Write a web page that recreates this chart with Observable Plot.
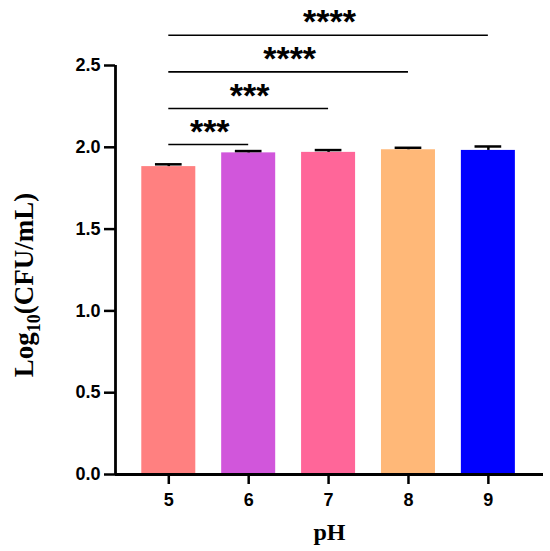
<!DOCTYPE html>
<html>
<head>
<meta charset="utf-8">
<script src="https://cdn.jsdelivr.net/npm/d3@7"></script>
<script src="https://cdn.jsdelivr.net/npm/@observablehq/plot@0.6"></script>
<style>
  html, body { margin: 0; padding: 0; background: #fff; }
</style>
</head>
<body>
<div id="chart"></div>
<script>
// ---- data ----
const phValues = [5, 6, 7, 8, 9];
const meanValues = [1.882, 1.966, 1.969, 1.985, 1.981];
const sdValues = [0.014, 0.011, 0.014, 0.012, 0.024];
const barColors = ["#FF8080", "#D156DB", "#FF6699", "#FFB878", "#0000FF"];
const yTickValues = [0, 0.5, 1.0, 1.5, 2.0, 2.5];
const sigFrom = [5, 5, 5, 5];
const sigTo = [6, 7, 8, 9];
const sigLevel = [2.017, 2.237, 2.461, 2.685];
const sigLabel = ["***", "***", "****", "****"];

const bars = phValues.map((p, i) => ({ph: p, mean: meanValues[i], sd: sdValues[i], color: barColors[i]}));
const sigs = sigFrom.map((f, i) => ({from: f, to: sigTo[i], level: sigLevel[i], label: sigLabel[i]}));

const xDomain = [4.333, 9.69];
const halfBar = 0.338;
const halfCap = 0.167;

const chart = Plot.plot({
  width: 550,
  height: 551,
  marginLeft: 115,
  marginRight: 7,
  marginTop: 65,
  marginBottom: 77,
  style: {fontFamily: "'Liberation Sans', Arial, sans-serif", background: "white", overflow: "visible"},
  x: {type: "linear", domain: xDomain},
  y: {domain: [0, 2.5]},
  color: {type: "identity"},
  marks: [
    Plot.rectY(bars, {x1: d => d.ph - halfBar, x2: d => d.ph + halfBar, y1: 0, y2: "mean", fill: "color"}),
    Plot.ruleX(bars, {x: "ph", y1: "mean", y2: d => d.mean + d.sd, stroke: "#000", strokeWidth: 2.5}),
    Plot.ruleY(bars, {x1: d => d.ph - halfCap, x2: d => d.ph + halfCap, y: d => d.mean + d.sd, stroke: "#000", strokeWidth: 2.5}),
    Plot.ruleY(sigs, {x1: "from", x2: "to", y: "level", stroke: "#000", strokeWidth: 1.6}),
    Plot.text(sigs, {x: d => (d.from + d.to) / 2, y: "level", text: "label", lineAnchor: "bottom", dy: -2, dx: 1,
      fontSize: 34, fontWeight: "bold", fill: "#000", ariaLabel: "stars"}),
    Plot.axisY({ticks: yTickValues, tickFormat: d3.format(".1f"), tickSize: 11, tickPadding: 4,
      fontSize: 18, fontWeight: "bold", strokeWidth: 2.5, label: null, color: "#000"}),
    Plot.axisX({ticks: phValues, tickFormat: d => String(d), tickSize: 10, tickPadding: 9,
      fontSize: 18, fontWeight: "bold", strokeWidth: 2.5, label: null, color: "#000"}),
    Plot.ruleX([xDomain[0]], {y1: 0, y2: 2.5, stroke: "#000", strokeWidth: 2.8}),
    Plot.ruleY([0], {stroke: "#000", strokeWidth: 2.8}),
    Plot.text(["pH"], {frameAnchor: "bottom", dy: 65, lineAnchor: "bottom", fontSize: 24, fontWeight: "bold",
      fontFamily: "'Liberation Serif', 'Times New Roman', serif", fill: "#000"}),
    Plot.text(["Log10(CFU/mL)"], {frameAnchor: "left", dx: -91, dy: 15, rotate: -90, textAnchor: "middle", fontSize: 27, fontWeight: "bold",
      fontFamily: "'Liberation Serif', 'Times New Roman', serif", fill: "#000", ariaLabel: "ylabel"})
  ]
});

document.getElementById("chart").appendChild(chart);

// letter spacing for significance stars
chart.querySelectorAll('g[aria-label="stars"] text').forEach(t => { t.style.letterSpacing = "2px"; });

// subscript for the y-axis label
const ns = "http://www.w3.org/2000/svg";
chart.querySelectorAll("text").forEach(t => {
  if (t.textContent === "Log10(CFU/mL)") {
    t.textContent = "";
    const a = document.createElementNS(ns, "tspan"); a.textContent = "Log";
    const b = document.createElementNS(ns, "tspan"); b.textContent = "10";
    b.setAttribute("font-size", "18"); b.setAttribute("dy", "7");
    const c = document.createElementNS(ns, "tspan"); c.textContent = "(CFU/mL)";
    c.setAttribute("dy", "-7");
    t.appendChild(a); t.appendChild(b); t.appendChild(c);
  }
});
</script>
</body>
</html>
